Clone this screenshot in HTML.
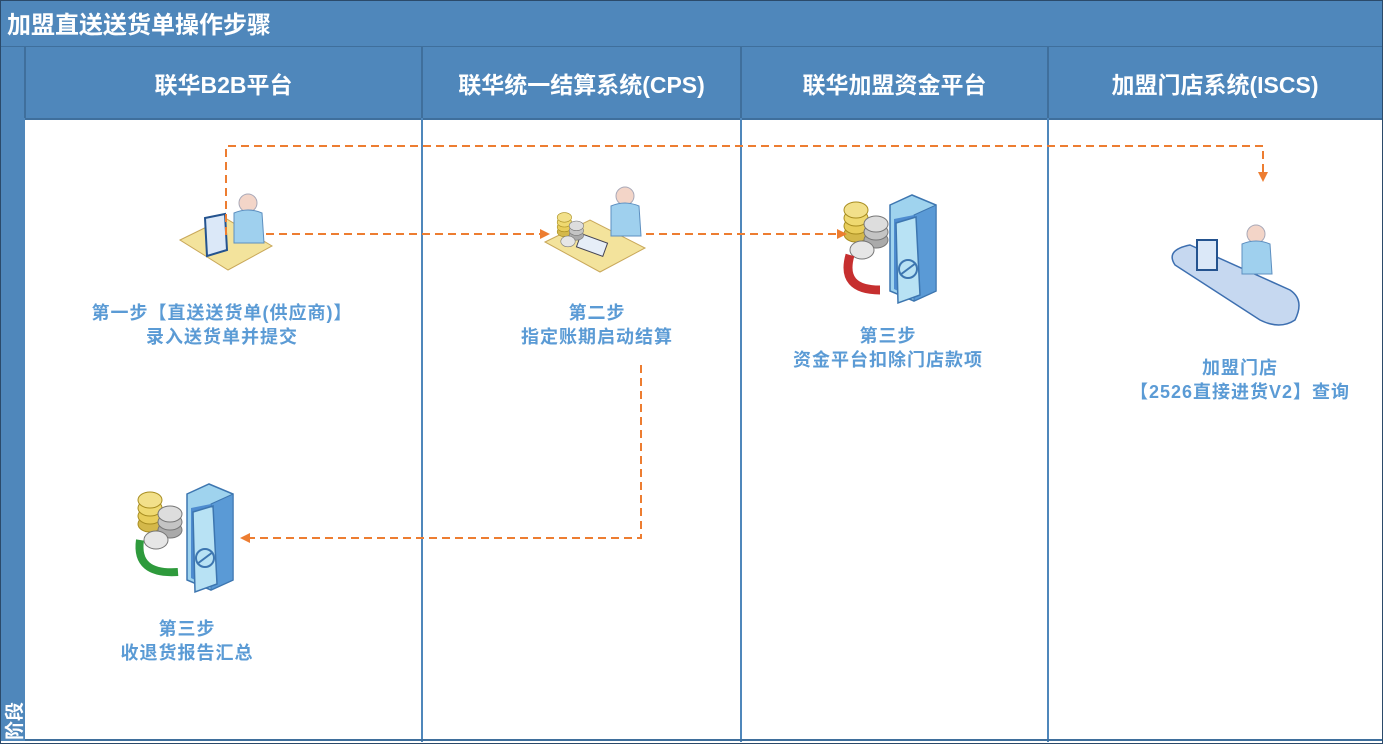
<!DOCTYPE html>
<html><head><meta charset="utf-8"><style>
html,body{margin:0;padding:0;width:1383px;height:744px;overflow:hidden;background:#fff}
body{font-family:"Liberation Sans","Noto Sans CJK SC",sans-serif}
.t{position:absolute;font-weight:bold;white-space:nowrap}
.lbl{position:absolute;color:#5b9bd5;font-weight:bold;font-size:18px;letter-spacing:1px;text-align:center;line-height:24px;white-space:nowrap;transform:translateX(-50%)}
.hd{position:absolute;top:47px;height:71px;color:#fff;font-weight:bold;font-size:23px;display:flex;align-items:center;justify-content:center}
</style></head><body>
<div style="position:absolute;left:0;top:0;width:1381px;height:742px;border:1px solid #2b4a6a;background:#fff"></div>
<div style="position:absolute;left:1px;top:1px;width:1381px;height:45px;background:#4f87bb;border-bottom:1px solid #3f6f9c"></div>
<div class="t" style="left:7px;top:5px;color:#fff;font-size:24px">加盟直送送货单操作步骤</div>
<div style="position:absolute;left:1px;top:47px;width:24px;height:694px;background:#4f87bb"></div>
<div class="t" style="left:0px;color:#fff;font-size:19px;transform:rotate(-90deg);transform-origin:left top;top:740px;">阶段</div>
<div style="position:absolute;left:25px;top:47px;width:1357px;height:71px;background:#4f87bb;border-bottom:2px solid #3f6f9c"></div>
<div class="hd" style="left:25px;width:397px">联华B2B平台</div>
<div class="hd" style="left:422px;width:319px">联华统一结算系统(CPS)</div>
<div class="hd" style="left:741px;width:307px">联华加盟资金平台</div>
<div class="hd" style="left:1048px;width:334px">加盟门店系统(ISCS)</div>
<svg style="position:absolute;left:0;top:0" width="1383" height="744">
<defs>
<g id="safe">
<polygon points="0,0 22,-10 46,0 46,86 24,96 0,86" fill="#9fd3ee" stroke="#3d76b0" stroke-width="1.5"/>
<polygon points="24,10 46,0 46,86 24,96" fill="#5a9ad6" stroke="#3d76b0"/>
<polygon points="4,14 24,10 24,94 4,84" fill="#4e8cd0"/>
<polygon points="6,18 26,12 30,90 8,98" fill="#b8e2f4" stroke="#3d76b0" stroke-width="1.5"/>
<circle cx="18" cy="64" r="9" fill="none" stroke="#3d76b0" stroke-width="2"/>
<line x1="10" y1="70" x2="26" y2="58" stroke="#3d76b0" stroke-width="2"/>
</g>
<g id="coins">
<ellipse cx="14" cy="28" rx="12" ry="8" fill="#d4b84a" stroke="#a88d20"/>
<ellipse cx="14" cy="20" rx="12" ry="8" fill="#e8cd5a" stroke="#a88d20"/>
<ellipse cx="14" cy="12" rx="12" ry="8" fill="#efd970" stroke="#a88d20"/>
<ellipse cx="14" cy="4" rx="12" ry="8" fill="#f2e08a" stroke="#a88d20"/>
<ellipse cx="34" cy="34" rx="12" ry="8" fill="#aaa" stroke="#777"/>
<ellipse cx="34" cy="26" rx="12" ry="8" fill="#c4c4c4" stroke="#777"/>
<ellipse cx="34" cy="18" rx="12" ry="8" fill="#ddd" stroke="#777"/>
<ellipse cx="20" cy="44" rx="12" ry="9" fill="#e6e6e6" stroke="#777"/>
</g>
<g id="person">
<circle cx="0" cy="0" r="9" fill="#f3d5c8" stroke="#a9a9b8"/>
<path d="M-14,10 Q0,4 14,10 L16,40 L-14,40 Z" fill="#9fd0ee" stroke="#5d8fc0"/>
</g>
<marker id="ar" markerWidth="10" markerHeight="10" refX="8" refY="5" orient="auto" markerUnits="userSpaceOnUse"><path d="M0,0 L10,5 L0,10 Z" fill="#ed7d31"/></marker>
</defs>
<g stroke="#3f6f9c" stroke-width="2">
<line x1="25" y1="47" x2="25" y2="118"/>
<line x1="422" y1="47" x2="422" y2="118"/>
<line x1="741" y1="47" x2="741" y2="118"/>
<line x1="1048" y1="47" x2="1048" y2="118"/>
</g>
<g stroke="#4f87bb" stroke-width="2">
<line x1="422" y1="118" x2="422" y2="742"/>
<line x1="741" y1="118" x2="741" y2="742"/>
<line x1="1048" y1="118" x2="1048" y2="742"/>
</g>
<line x1="25" y1="740" x2="1382" y2="740" stroke="#3f6f9c" stroke-width="2"/>
<polygon points="180,240 225,218 272,246 228,270" fill="#f3e39c" stroke="#c9a85a"/>
<polygon points="205,218 225,214 227,250 207,256" fill="#dbe8f8" stroke="#24538f" stroke-width="2"/>
<use href="#person" x="248" y="203"/>
<polygon points="545,242 590,220 645,248 600,272" fill="#f3e39c" stroke="#c9a85a"/>
<use href="#person" x="625" y="196"/>
<rect x="578" y="238" width="28" height="14" fill="#e6eef8" stroke="#445" transform="rotate(20 592 245)"/>
<g transform="translate(556,215) scale(0.6)"><use href="#coins"/></g>
<use href="#coins" x="842" y="206"/>
<use href="#safe" x="890" y="205"/>
<path d="M880,290 Q840,290 850,255" fill="none" stroke="#c62f2f" stroke-width="9"/>
<path d="M1175,265 Q1165,250 1190,245 L1290,290 Q1305,300 1295,320 Q1280,330 1260,320 Z" fill="#c6d8f0" stroke="#3d6fb0" stroke-width="1.5"/>
<rect x="1197" y="240" width="20" height="30" fill="#dbe8f8" stroke="#24538f" stroke-width="2"/>
<use href="#person" x="1256" y="234"/>
<use href="#coins" x="136" y="496"/>
<use href="#safe" x="187" y="494"/>
<path d="M178,572 Q135,575 140,540" fill="none" stroke="#2e9a3c" stroke-width="8"/>
<g fill="none" stroke="#ed7d31" stroke-width="2" stroke-dasharray="8,5">
<path d="M226,235 L226,146 L1263,146 L1263,180" marker-end="url(#ar)"/>
<path d="M266,234 L548,234" marker-end="url(#ar)"/>
<path d="M646,234 L845,234" marker-end="url(#ar)"/>
<path d="M641,365 L641,538 L242,538" marker-end="url(#ar)"/>
</g>
</svg>
<div class="lbl" style="left:222px;top:301px">第一步【直送送货单(供应商)】<br>录入送货单并提交</div>
<div class="lbl" style="left:597px;top:301px">第二步<br>指定账期启动结算</div>
<div class="lbl" style="left:888px;top:324px">第三步<br>资金平台扣除门店款项</div>
<div class="lbl" style="left:1240px;top:356px">加盟门店<br>【2526直接进货V2】查询</div>
<div class="lbl" style="left:187px;top:617px">第三步<br>收退货报告汇总</div>
</body></html>
